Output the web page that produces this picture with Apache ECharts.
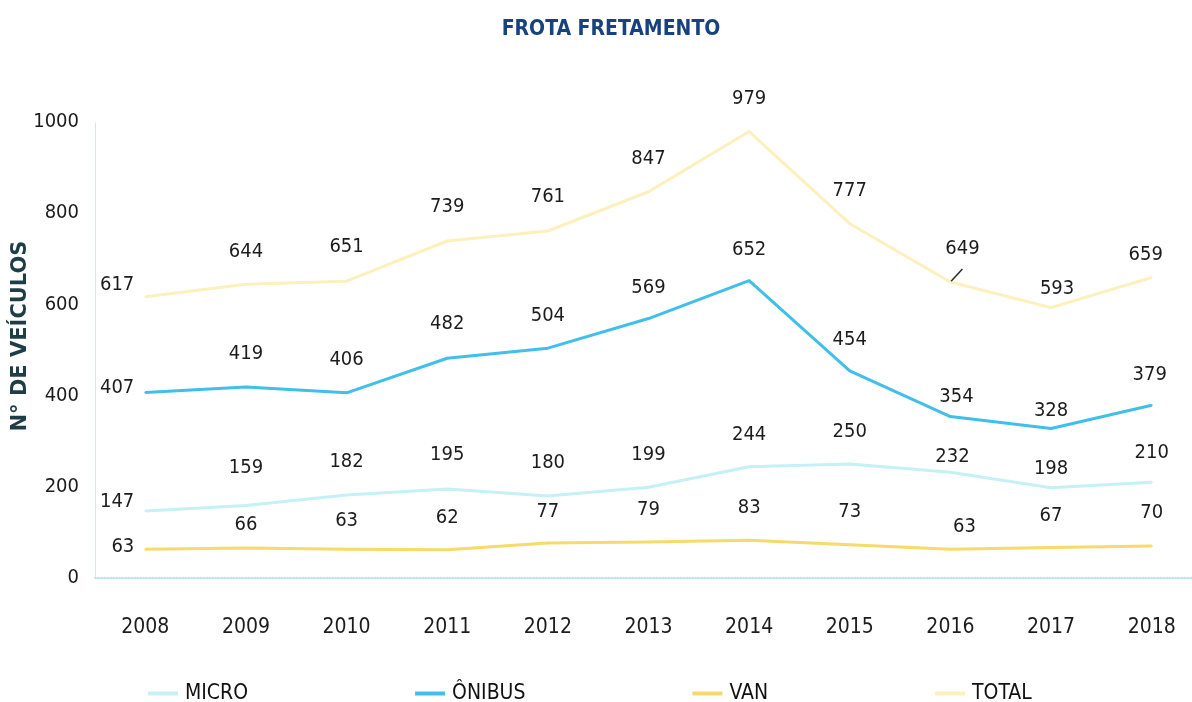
<!DOCTYPE html>
<html>
<head>
<meta charset="utf-8">
<title>Frota Fretamento</title>
<script src="https://cdn.jsdelivr.net/npm/echarts@6/dist/echarts.min.js"></script>
<style>
  html, body { margin: 0; padding: 0; background: #ffffff; }
  #chart { width: 1192px; height: 702px; }
</style>
</head>
<body>
<div id="chart"></div>
<script>
// Fleet of chartered vehicles by year and type
const years  = ['2008', '2009', '2010', '2011', '2012', '2013', '2014', '2015', '2016', '2017', '2018'];
const micro  = [147, 159, 182, 195, 180, 199, 244, 250, 232, 198, 210];
const onibus = [407, 419, 406, 482, 504, 569, 652, 454, 354, 328, 379];
const van    = [63, 66, 63, 62, 77, 79, 83, 73, 63, 67, 70];
const total  = [617, 644, 651, 739, 761, 847, 979, 777, 649, 593, 659];
const yTicks = [0, 200, 400, 600, 800, 1000];

const NUM_FONT = '"DejaVu Sans Condensed", "Liberation Sans", sans-serif';

// label spacing above each point (first year sits to the left of the line)
const labelGap = {
  micro:  [0, 27, 22, 23, 22, 21, 21, 21, 4, 8, 18],
  onibus: [0, 22, 22, 23, 21, 20, 20, 20, 9, 7, 19],
  van:    [0, 12, 17, 21, 20, 21, 21, 22, 11, 21, 22],
  total:  [0, 22, 23, 23, 23, 22, 22, 22, 22, 8, 12]
};
const labelShiftX = {
  micro:  [0, 0, 0, 0, 0, 0, 0, 0, 2, 0, 0],
  onibus: [0, 0, 0, 0, 0, 0, 0, 0, 6, 0, -2],
  van:    [0, 0, 0, 0, 0, 0, 0, 0, 14, 0, 0],
  total:  [0, 0, 0, 0, 0, 0, 0, 0, 12, 6, -6]
};
const firstLift = { micro: -9, onibus: -5, van: -2, total: -12 };

function buildData(values, key) {
  return values.map(function (v, i) {
    if (i === 0) {
      return { value: v, label: { position: 'left', distance: 10, offset: [0, firstLift[key]] } };
    }
    const item = { value: v, label: { position: 'top', distance: labelGap[key][i], offset: [labelShiftX[key][i], 0] } };
    if (key === 'total' && i === 8) {
      item.labelLine = { show: true, length2: 0, lineStyle: { color: '#2a2a2a', width: 1.5 } };
    }
    return item;
  });
}

function lineSeries(name, values, key, color) {
  return {
    name: name,
    type: 'line',
    data: buildData(values, key),
    symbol: 'circle',
    symbolSize: 2,
    smooth: false,
    itemStyle: { color: color },
    lineStyle: { color: color, width: 3, join: 'round' },
    label: {
      show: true,
      color: '#1c1c1c',
      fontFamily: NUM_FONT,
      fontSize: 20
    },
    emphasis: { disabled: true }
  };
}

const chart = echarts.init(document.getElementById('chart'), null, { renderer: 'canvas' });

chart.setOption({
  backgroundColor: '#ffffff',
  animation: false,
  title: {
    text: 'FROTA FRETAMENTO',
    left: 606,
    top: 14,
    textAlign: 'center',
    textStyle: {
      color: '#17427f',
      fontFamily: NUM_FONT,
      fontWeight: 'bold',
      fontSize: 21
    }
  },
  legend: {
    left: 143,
    top: 678,
    itemGap: 167,
    itemWidth: 30,
    itemHeight: 4,
    icon: 'rect',
    textStyle: {
      color: '#111111',
      fontFamily: NUM_FONT,
      fontSize: 21,
      padding: [0, 0, 0, 2]
    },
    data: ['MICRO', 'ÔNIBUS', 'VAN', 'TOTAL']
  },
  grid: {
    left: 95,
    right: -10,
    top: 122,
    bottom: 124,
    outerBoundsMode: 'none'
  },
  xAxis: {
    type: 'category',
    data: years,
    boundaryGap: true,
    axisLine: { show: true, lineStyle: { color: '#9fdcee', width: 1.5, type: 'dotted' } },
    axisTick: { show: false },
    axisLabel: {
      color: '#1c1c1c',
      fontFamily: NUM_FONT,
      fontSize: 21,
      margin: 39
    },
    splitLine: { show: false }
  },
  yAxis: {
    type: 'value',
    min: yTicks[0],
    max: yTicks[yTicks.length - 1],
    interval: 200,
    name: 'N° DE VEÍCULOS',
    nameLocation: 'middle',
    nameGap: 64,
    nameMoveOverlap: false,
    nameTextStyle: {
      color: '#1f3d46',
      fontFamily: '"DejaVu Sans", sans-serif',
      fontWeight: 'bold',
      fontSize: 21,
      padding: [0, 0, 0, 28]
    },
    axisLine: { show: true, lineStyle: { color: '#bfe8f2', width: 1, type: 'dotted' } },
    axisTick: { show: false },
    axisLabel: {
      color: '#1c1c1c',
      fontFamily: NUM_FONT,
      fontSize: 20,
      margin: 16,
      formatter: function (v) { return String(v); }
    },
    splitLine: { show: false }
  },
  series: [
    lineSeries('MICRO', micro, 'micro', '#c4f0f6'),
    lineSeries('ÔNIBUS', onibus, 'onibus', '#3fbfe9'),
    lineSeries('VAN', van, 'van', '#f6da6a'),
    lineSeries('TOTAL', total, 'total', '#fcf0bd')
  ]
});
</script>
</body>
</html>
